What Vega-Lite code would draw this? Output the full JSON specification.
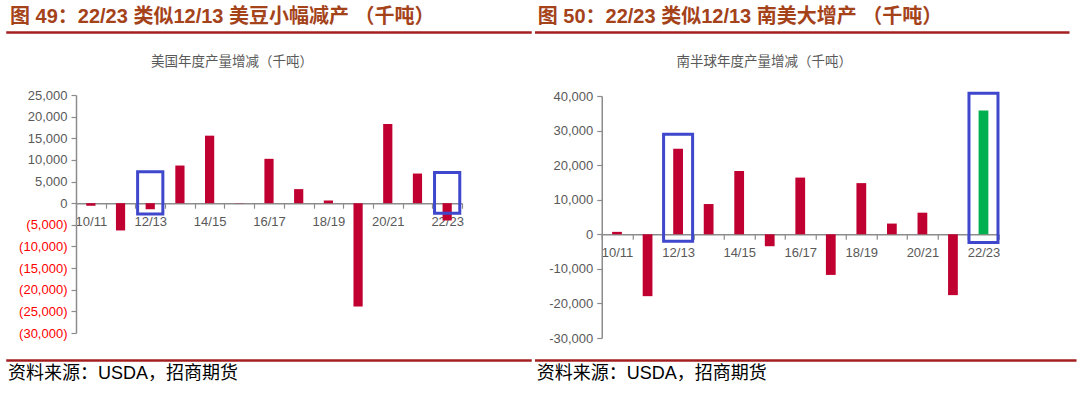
{
  "$schema": "https://vega.github.io/schema/vega-lite/v6.json",
  "padding": {"left": 6, "top": 6, "right": 0, "bottom": 0},
  "background": "white",
  "config": {
    "font": "Liberation Sans, Noto Sans CJK SC",
    "view": {"stroke": null},
    "axis": {"grid": false, "domainColor": "#8c8c8c", "tickColor": "#8c8c8c", "labelColor": "#595959", "labelFont": "Liberation Sans", "labelFontSize": 13, "title": null, "domainWidth": 1.5, "tickWidth": 1.2, "labelOverlap": false}
  },
  "datasets": {
    "us": [
      {"year": "10/11", "value": -600},
      {"year": "11/12", "value": -6300},
      {"year": "12/13", "value": -1400},
      {"year": "13/14", "value": 8700},
      {"year": "14/15", "value": 15600},
      {"year": "15/16", "value": -50},
      {"year": "16/17", "value": 10250},
      {"year": "17/18", "value": 3250},
      {"year": "18/19", "value": 600},
      {"year": "19/20", "value": -23900},
      {"year": "20/21", "value": 18300},
      {"year": "21/22", "value": 6850},
      {"year": "22/23", "value": -4000}
    ],
    "usBox": [
      {"year": "12/13", "value": 7250, "bottom": -2480},
      {"year": "22/23", "value": 7100, "bottom": -2350}
    ],
    "sa": [
      {"year": "10/11", "value": 700, "kind": "normal"},
      {"year": "11/12", "value": -17900, "kind": "normal"},
      {"year": "12/13", "value": 24750, "kind": "normal"},
      {"year": "13/14", "value": 8750, "kind": "normal"},
      {"year": "14/15", "value": 18300, "kind": "normal"},
      {"year": "15/16", "value": -3450, "kind": "normal"},
      {"year": "16/17", "value": 16400, "kind": "normal"},
      {"year": "17/18", "value": -11750, "kind": "normal"},
      {"year": "18/19", "value": 14800, "kind": "normal"},
      {"year": "19/20", "value": 3100, "kind": "normal"},
      {"year": "20/21", "value": 6250, "kind": "normal"},
      {"year": "21/22", "value": -17600, "kind": "normal"},
      {"year": "22/23", "value": 35800, "kind": "highlight"}
    ],
    "saBox": [
      {"year": "12/13", "value": 28900, "bottom": -2000},
      {"year": "22/23", "value": 40800, "bottom": -2400}
    ]
  },
  "spacing": 2.75,
  "hconcat": [
    {
      "columns": 1, "align": "none",
      "spacing": 20,
      "concat": [
        {
          "width": 524, "height": 1,
          "data": {"values": []},
          "mark": "rule",
          "encoding": {},
          "view": {"stroke": "#A31F1F", "strokeWidth": 1.5},
          "title": {"text": "图 49：22/23 类似12/13 美豆小幅减产 （千吨）", "anchor": "start", "frame": "group", "fontSize": 20, "fontWeight": "bold", "color": "#A4421A", "offset": 5, "dx": 3}
        },
        {
          "columns": 1,
          "spacing": 19,
          "concat": [
            {
              "spacing": 0,
              "hconcat": [
                {"width": 1, "height": 238, "data": {"values": []}, "mark": "rule", "encoding": {}},
                {
                  "width": 386, "height": 238,
                  "title": {"text": "美国年度产量增减（千吨）", "fontSize": 13.5, "fontWeight": "normal", "color": "#595959", "anchor": "middle", "frame": "group", "dx": -37, "offset": 21, "font": "Noto Sans CJK SC"},
                  "encoding": {
                    "x": {"field": "year", "type": "nominal", "sort": null,
                      "scale": {"domain": ["10/11","11/12","12/13","13/14","14/15","15/16","16/17","17/18","18/19","19/20","20/21","21/22","22/23"], "paddingInner": 0, "paddingOuter": 0},
                      "axis": {"tickBand": "extent", "tickSize": 5, "labelPadding": 7, "labelAngle": 0, "offset": -129.8,
                        "labelExpr": "indexof(['10/11','12/13','14/15','16/17','18/19','20/21','22/23'], datum.value) >= 0 ? datum.label : ''"}},
                    "y": {"field": "value", "type": "quantitative",
                      "scale": {"domain": [-30000, 25000], "nice": false},
                      "axis": {"values": [-30000,-25000,-20000,-15000,-10000,-5000,0,5000,10000,15000,20000,25000], "tickSize": 5, "labelPadding": 4, "minExtent": 68, "maxExtent": 68,
                        "labelExpr": "datum.value < 0 ? '(' + format(-datum.value, ',') + ')' : format(datum.value, ',')",
                        "labelColor": {"condition": {"test": "datum.value < 0", "value": "#FF0000"}, "value": "#595959"}}}
                  },
                  "layer": [
                    {
                      "data": {"name": "us"},
                      "mark": {"type": "bar", "width": {"band": 0.31}, "color": "#C00030"}
                    },
                    {
                      "data": {"name": "usBox"},
                      "mark": {"type": "bar", "width": {"band": 0.85}, "fillOpacity": 0, "stroke": "#3F48CC", "strokeWidth": 3},
                      "encoding": {"y2": {"field": "bottom"}}
                    }
                  ]
                }
              ]
            },
            {
              "width": 524, "height": 1,
              "data": {"values": []},
              "mark": "rule",
              "encoding": {},
              "view": {"stroke": "#A31F1F", "strokeWidth": 1.5},
              "title": {"text": "资料来源：USDA，招商期货", "orient": "bottom", "anchor": "start", "frame": "group", "fontSize": 18, "fontWeight": "normal", "color": "#000000", "offset": 4, "dx": 1}
            }
          ]
        }
      ]
    },
    {
      "columns": 1,
      "spacing": 20,
      "concat": [
        {
          "width": 533, "height": 1,
          "data": {"values": []},
          "mark": "rule",
          "encoding": {},
          "view": {"stroke": "#A31F1F", "strokeWidth": 1.5},
          "title": {"text": "图 50：22/23 类似12/13 南美大增产 （千吨）", "anchor": "start", "frame": "group", "fontSize": 20, "fontWeight": "bold", "color": "#A4421A", "offset": 5, "dx": 2}
        },
        {
          "columns": 1,
          "spacing": 14,
          "concat": [
            {
              "spacing": 0,
              "hconcat": [
                {"width": 1, "height": 242, "data": {"values": []}, "mark": "rule", "encoding": {}},
                {
                  "width": 397, "height": 242,
                  "title": {"text": "南半球年度产量增减（千吨）", "fontSize": 13.5, "fontWeight": "normal", "color": "#595959", "anchor": "middle", "frame": "group", "dx": -36, "offset": 22, "font": "Noto Sans CJK SC"},
                  "encoding": {
                    "x": {"field": "year", "type": "nominal", "sort": null,
                      "scale": {"domain": ["10/11","11/12","12/13","13/14","14/15","15/16","16/17","17/18","18/19","19/20","20/21","21/22","22/23"], "paddingInner": 0, "paddingOuter": 0},
                      "axis": {"tickBand": "extent", "tickSize": 5, "labelPadding": 7, "labelAngle": 0, "offset": -103.7,
                        "labelExpr": "indexof(['10/11','12/13','14/15','16/17','18/19','20/21','22/23'], datum.value) >= 0 ? datum.label : ''"}},
                    "y": {"field": "value", "type": "quantitative",
                      "scale": {"domain": [-30000, 40000], "nice": false},
                      "axis": {"values": [-30000,-20000,-10000,0,10000,20000,30000,40000], "tickSize": 5, "labelPadding": 4, "minExtent": 65, "maxExtent": 65,
                        "labelExpr": "datum.value < 0 ? '-' + format(-datum.value, ',') : format(datum.value, ',')"}}
                  },
                  "layer": [
                    {
                      "data": {"name": "sa"},
                      "mark": {"type": "bar", "width": {"band": 0.32}},
                      "encoding": {
                        "color": {"field": "kind", "type": "nominal", "scale": {"domain": ["normal", "highlight"], "range": ["#C00030", "#00B050"]}, "legend": null}
                      }
                    },
                    {
                      "data": {"name": "saBox"},
                      "mark": {"type": "bar", "width": {"band": 0.95}, "fillOpacity": 0, "stroke": "#3F48CC", "strokeWidth": 3},
                      "encoding": {"y2": {"field": "bottom"}}
                    }
                  ]
                }
              ]
            },
            {
              "width": 540, "height": 1,
              "data": {"values": []},
              "mark": "rule",
              "encoding": {},
              "view": {"stroke": "#A31F1F", "strokeWidth": 1.5},
              "title": {"text": "资料来源：USDA，招商期货", "orient": "bottom", "anchor": "start", "frame": "group", "fontSize": 18, "fontWeight": "normal", "color": "#000000", "offset": 4, "dx": 1}
            }
          ]
        }
      ]
    }
  ]
}
